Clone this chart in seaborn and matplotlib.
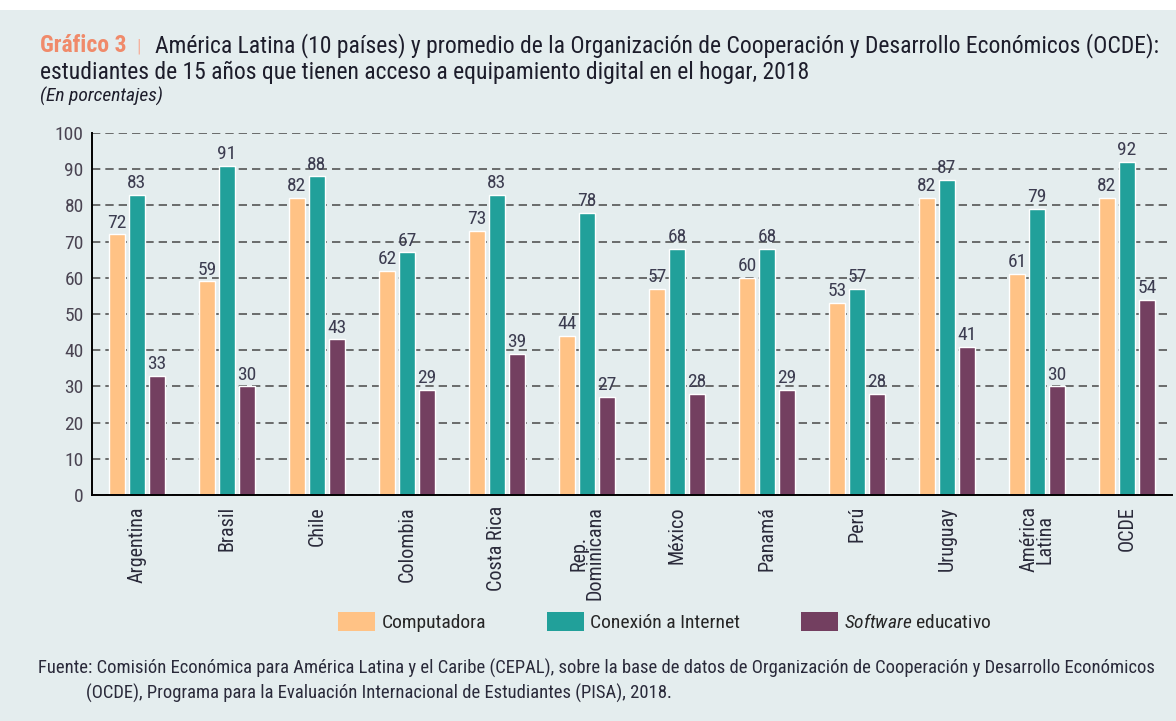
import pandas as pd
import seaborn as sns
import matplotlib.pyplot as plt
from matplotlib.patches import Rectangle

BG = "#e4edee"
FONTS = ["Roboto Condensed", "Archivo Narrow", "Liberation Sans Narrow", "DejaVu Sans"]

paises = ["Argentina", "Brasil", "Chile", "Colombia", "Costa Rica", "Rep.\nDominicana",
          "México", "Panamá", "Perú", "Uruguay", "América\nLatina", "OCDE"]
computadora = [72, 59, 82, 62, 73, 44, 57, 60, 53, 82, 61, 82]
internet = [83, 91, 88, 67, 83, 78, 68, 68, 57, 87, 79, 92]
software = [33, 30, 43, 29, 39, 27, 28, 29, 28, 41, 30, 54]
series = ["Computadora", "Conexión a Internet", "Software educativo"]
colores = ["#ffc285", "#21a09a", "#733f60"]

df = pd.DataFrame({"pais": paises * 3,
                   "serie": [s for s in series for _ in paises],
                   "valor": computadora + internet + software})

sns.set_theme(style="white")
plt.rcParams["font.family"] = FONTS
plt.rcParams["mathtext.fontset"] = "custom"
plt.rcParams["mathtext.it"] = FONTS[0] + ":italic"
plt.rcParams["mathtext.rm"] = FONTS[0]

fig = plt.figure(figsize=(11.76, 7.21), dpi=100)
fig.patch.set_facecolor(BG)
# white strip at the very top
fig.patches.append(Rectangle((0, 1 - 10 / 721), 1, 10 / 721, transform=fig.transFigure,
                             facecolor="white", edgecolor="none", zorder=0))

ax = fig.add_axes([92 / 1176, 1 - 495 / 721, 1080 / 1176, 362 / 721])
ax.set_facecolor(BG)
sns.barplot(data=df, x="pais", y="valor", hue="serie", palette=colores,
            width=0.667, gap=0.2, saturation=1, ax=ax, legend=False)

ax.set_ylim(0, 100)
ax.set_xlim(-0.5, len(paises) - 0.5)
ax.set_yticks(range(0, 101, 10))
ax.set_yticklabels([str(v) for v in range(0, 101, 10)], fontsize=14, color="#4a4452")
ax.yaxis.grid(True, linestyle=(0, (5, 3)), color="#555555", linewidth=1.2)
ax.set_axisbelow(True)
ax.set_xlabel("")
ax.set_ylabel("")
ax.set_xticks(range(len(paises)))
ax.set_xticklabels(paises, rotation=90, fontsize=14.5, color="#2a2a3a", va="top",
                   linespacing=0.8)
ax.set_xticks([i - 0.5 for i in range(len(paises) + 1)], minor=True)
ax.tick_params(axis="x", which="major", length=0, pad=8)
ax.tick_params(axis="x", which="minor", length=6, width=1.2, color="black", direction="out")
ax.tick_params(axis="y", length=4, width=1.2, color="black", direction="out", pad=2)
for s in ["top", "right"]:
    ax.spines[s].set_visible(False)
for s in ["left", "bottom"]:
    ax.spines[s].set_color("black")
    ax.spines[s].set_linewidth(1.4)

for cont in ax.containers:
    ax.bar_label(cont, fmt="%d", fontsize=14, color="#3c3c50", padding=2)

# Title
fig.text(40 / 1176, 1 - 46 / 721, "Gráfico 3", fontsize=17, color="#f08a6a",
         fontweight="bold", va="center")
fig.text(136 / 1176, 1 - 46 / 721, "|", fontsize=14, color="#f4b3a0", va="center")
fig.text(155 / 1176, 1 - 46 / 721,
         "América Latina (10 países) y promedio de la Organización de Cooperación y Desarrollo Económicos (OCDE):",
         fontsize=17, color="#1d1d2b", va="center")
fig.text(40 / 1176, 1 - 72 / 721,
         "estudiantes de 15 años que tienen acceso a equipamiento digital en el hogar, 2018",
         fontsize=17, color="#1d1d2b", va="center")
fig.text(40 / 1176, 1 - 96 / 721, "(En porcentajes)", fontsize=14, color="#1d1d2b",
         style="italic", va="center")

# Legend
handles = [Rectangle((0, 0), 1, 1, facecolor=c, edgecolor="none") for c in colores]
labels = ["Computadora", "Conexión a Internet", "$\\it{Software}$ educativo"]
fig.legend(handles, labels, loc="center", bbox_to_anchor=(665 / 1176, 1 - 622 / 721),
           ncol=3, frameon=False, fontsize=14, handlelength=1.9, handleheight=1.1,
           columnspacing=3.1, handletextpad=0.35)

# Source
fig.text(38 / 1176, 1 - 668 / 721,
         "Fuente: Comisión Económica para América Latina y el Caribe (CEPAL), sobre la base de datos de Organización de Cooperación y Desarrollo Económicos",
         fontsize=13.4, color="#2a2a3a", va="center")
fig.text(86 / 1176, 1 - 693 / 721,
         "(OCDE), Programa para la Evaluación Internacional de Estudiantes (PISA), 2018.",
         fontsize=13.4, color="#2a2a3a", va="center")

fig.savefig("out.png", dpi=100, facecolor=fig.get_facecolor())
